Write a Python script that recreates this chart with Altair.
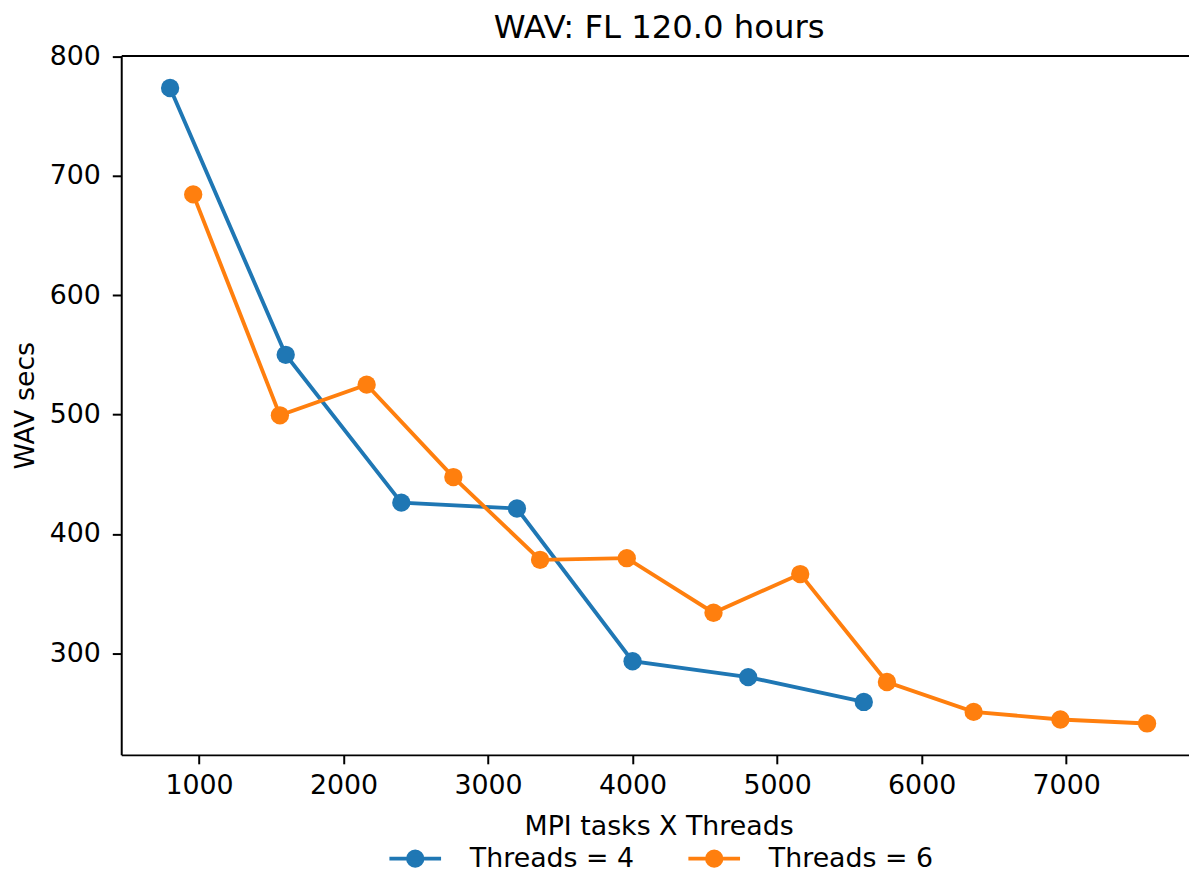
import altair as alt
import pandas as pd

# ---- data ----
threads4_x = [800, 1600, 2400, 3200, 4000, 4800, 5600]
threads4_y = [773.4, 550.0, 426.2, 421.3, 293.4, 280.1, 259.3]
threads6_x = [960, 1560, 2160, 2760, 3360, 3960, 4560, 5160, 5760, 6360, 6960, 7560]
threads6_y = [684.3, 499.3, 525.0, 447.6, 378.3, 379.7, 334.0, 366.4, 276.0, 251.0, 244.6, 241.3]
series_names = ["Threads = 4", "Threads = 6"]
series_colors = ["#1f77b4", "#ff7f0e"]
x_ticks = [1000, 2000, 3000, 4000, 5000, 6000, 7000]
y_ticks = [300, 400, 500, 600, 700, 800]

rows = []
for xv, yv in zip(threads4_x, threads4_y):
    rows.append({"x": xv, "y": yv, "series": series_names[0]})
for xv, yv in zip(threads6_x, threads6_y):
    rows.append({"x": xv, "y": yv, "series": series_names[1]})
df = pd.DataFrame(rows)

FONT = "DejaVu Sans"
LABEL_SIZE = 27
x_scale = alt.Scale(domain=[462, 7850], nice=False, zero=False)
y_scale = alt.Scale(domain=[215, 800.5], nice=False, zero=False)

r = 0.28
legend_path = (f"M-1,0L1,0M{r},0A{r},{r},0,1,1,-{r},0A{r},{r},0,1,1,{r},0Z")

color = alt.Color(
    "series:N",
    scale=alt.Scale(domain=series_names, range=series_colors),
    legend=alt.Legend(
        title=None,
        orient="none",
        direction="horizontal",
        legendX=268,
        legendY=780,
        symbolType=legend_path,
        symbolSize=2704,
        symbolStrokeWidth=3.9,
        symbolOpacity=1,
        labelOffset=27,
        labelLimit=400,
        columnPadding=46,
        labelFont=FONT,
        labelFontSize=LABEL_SIZE,
        labelColor="black",
    ),
)

y_enc = alt.Y(
    "y:Q",
    scale=y_scale,
    axis=alt.Axis(
        values=y_ticks,
        title="WAV secs",
        titlePadding=10,
        labelPadding=12,
    ),
)

lines = alt.Chart(df).mark_line(strokeWidth=3.9).encode(
    x=alt.X(
        "x:Q",
        scale=x_scale,
        axis=alt.Axis(
            values=x_ticks,
            title="MPI tasks X Threads",
            titlePadding=15,
            labelPadding=9,
            titleX=541,
            format="d",
        ),
    ),
    y=y_enc,
    color=color,
    detail="series:N",
)

points = alt.Chart(df).mark_point(filled=True, size=340, opacity=1).encode(
    x=alt.X(
        "x:Q",
        scale=x_scale,
        axis=alt.Axis(orient="top", labels=False, ticks=False, title=None, domain=True),
    ),
    y=y_enc,
    color=color,
)

chart = (
    alt.layer(lines, points)
    .resolve_axis(x="independent")
    .properties(
        width=1075,
        height=704,
        padding={"left": 114, "top": 45, "right": 0, "bottom": 117},
        autosize=alt.AutoSizeParams(type="none"),
        title=alt.TitleParams(
            "WAV: FL 120.0 hours",
            anchor="middle",
            frame="group",
            dx=4,
            dy=2,
            offset=0,
            font=FONT,
            fontSize=32.5,
            fontWeight="normal",
            color="black",
        ),
    )
    .configure_view(stroke=None)
    .configure_axis(
        grid=False,
        labelFont=FONT,
        labelFontSize=LABEL_SIZE,
        labelColor="black",
        titleFont=FONT,
        titleFontSize=LABEL_SIZE,
        titleFontWeight="normal",
        titleColor="black",
        domainColor="black",
        domainWidth=2,
        tickColor="black",
        tickWidth=2,
        tickSize=9,
    )
)

chart.save("out.html", embed_options={"renderer": "svg", "actions": False})
